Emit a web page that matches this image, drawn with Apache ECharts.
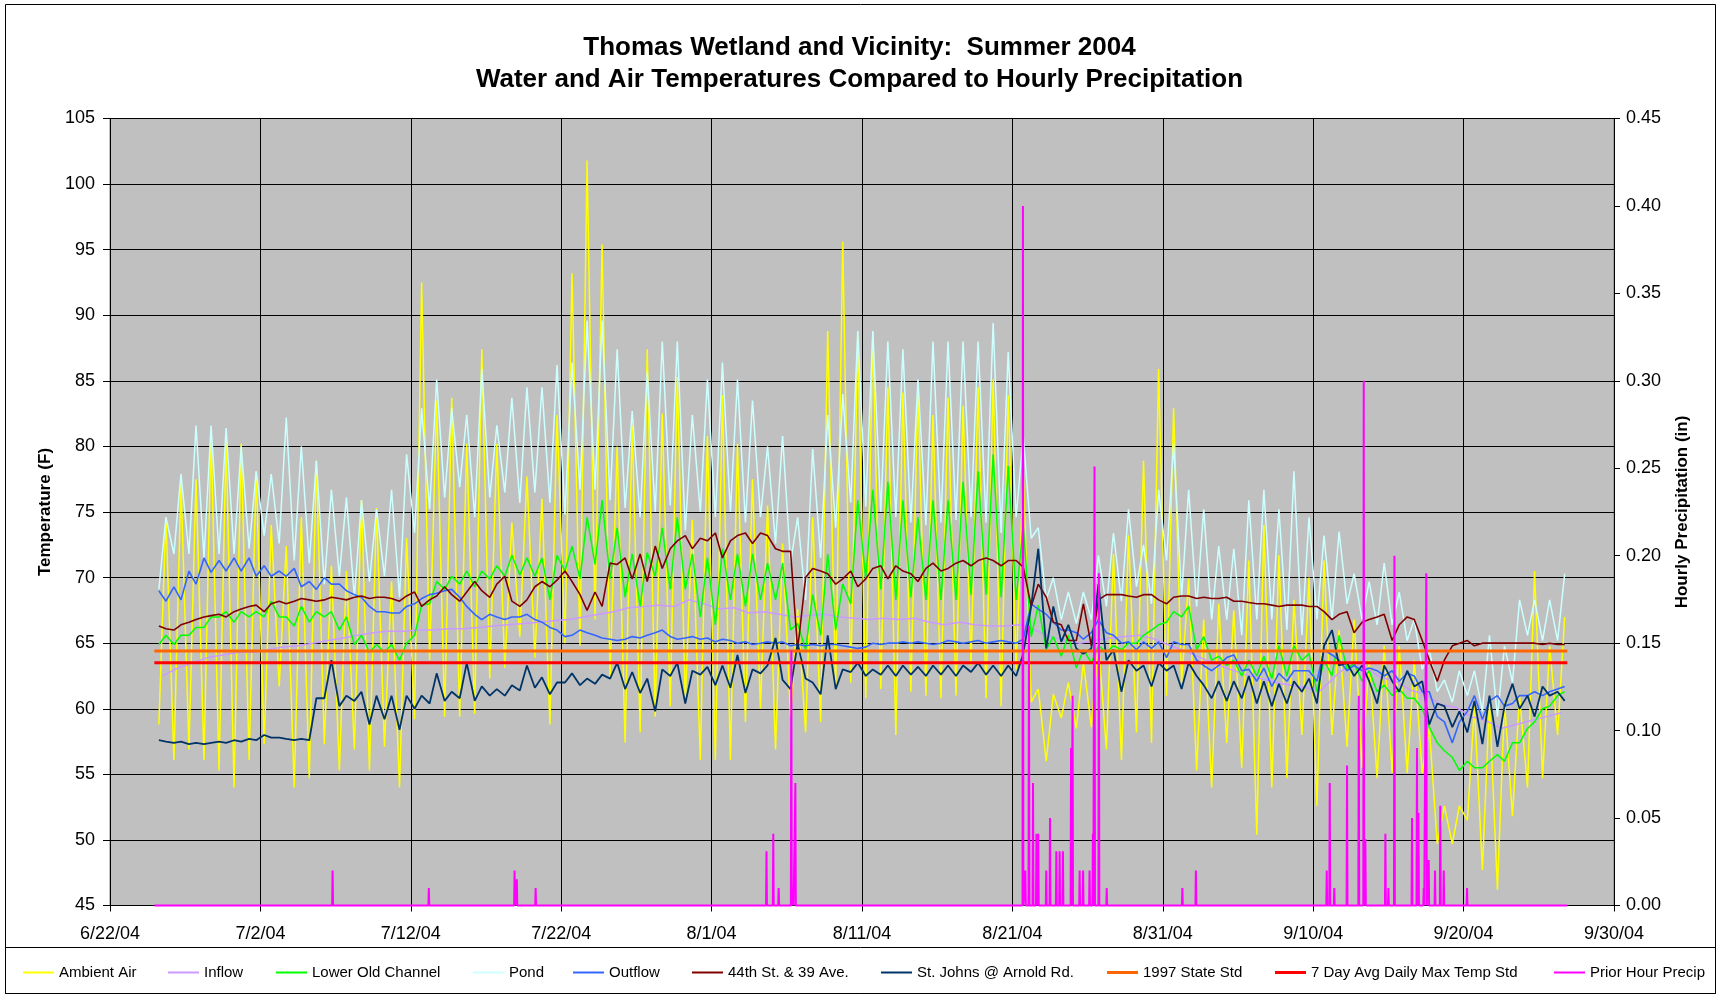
<!DOCTYPE html>
<html>
<head>
<meta charset="utf-8">
<title>Thomas Wetland and Vicinity: Summer 2004</title>
<script src="https://cdn.jsdelivr.net/npm/echarts@6/dist/echarts.min.js"></script>
<style>
    html, body { margin: 0; padding: 0; background: #fff; }
    #chart { width: 1719px; height: 998px; }
</style>
</head>
<body>
<div id="chart"></div>
<script>
// x is counted in days from 6/22/04, first reading day is 6/25/04
var firstDay = 3;
var xLabels = ['6/22/04', '7/2/04', '7/12/04', '7/22/04', '8/1/04', '8/11/04',
    '8/21/04', '8/31/04', '9/10/04', '9/20/04', '9/30/04'];

// two readings per day (early morning / late afternoon), 6/25 .. 9/26
var ambientAM = [
    58.8, 56.1, 56.9, 56.1, 55.3, 54.0, 56.1, 57.3, 61.7, 54.0,
    54.7, 57.3, 55.3, 56.9, 55.3, 57.1, 54.0, 59.2, 63.7, 59.4,
    59.4, 59.6, 62.3, 63.1, 65.5, 63.9, 58.8, 65.0, 64.8, 66.8,
    62.3, 57.4, 58.2, 59.4, 60.2, 60.5, 56.1, 56.1, 56.1, 59.0,
    60.0, 56.9, 59.4, 58.2, 59.0, 61.5, 62.0, 60.8, 61.5, 58.0,
    61.3, 61.0, 60.8, 61.0, 63.3, 60.8, 60.2, 63.0, 60.5, 56.0,
    59.3, 58.5, 58.6, 56.9, 56.1, 58.2, 57.4, 61.0, 62.0, 55.3,
    54.0, 57.4, 55.5, 50.4, 54.0, 54.7, 58.0, 52.6, 58.0, 57.1,
    55.5, 54.7, 55.1, 55.1, 55.1, 49.7, 49.7, 51.5, 47.7, 46.2,
    51.8, 54.0, 54.7, 58.0
];
var ambientPM = [
    74.6, 77.3, 77.5, 81.0, 80.4, 80.2, 78.1, 74.0, 72.4, 74.6,
    78.9, 70.9, 70.5, 75.9, 75.3, 69.7, 73.0, 92.5, 83.5, 83.7,
    80.2, 87.4, 80.2, 74.2, 77.7, 76.0, 82.4, 93.2, 101.8, 95.4,
    80.0, 81.6, 87.4, 82.5, 85.3, 74.4, 80.8, 83.9, 80.2, 77.5,
    75.5, 72.6, 67.6, 74.6, 88.8, 95.6, 88.4, 88.8, 84.5, 84.1,
    84.5, 82.4, 83.7, 83.1, 84.5, 85.1, 83.9, 78.1, 61.5, 61.1,
    62.0, 63.5, 65.0, 71.8, 73.2, 78.9, 85.9, 82.9, 69.9, 66.8,
    68.0, 67.5, 71.3, 74.0, 71.7, 68.3, 70.0, 71.3, 66.0, 66.8,
    63.7, 64.8, 64.8, 63.7, 58.5, 52.6, 52.6, 60.2, 60.5, 60.5,
    61.0, 70.5, 64.8, 67.0
];

// inflow: one reading per day
var inflowDaily = [
    62.5, 63.1, 63.5, 63.9, 64.1, 64.3, 64.3, 64.5, 64.7, 64.8,
    65.0, 65.2, 65.4, 65.6, 65.8, 65.9, 65.9, 66.0, 66.0, 66.1,
    66.1, 66.2, 66.3, 66.4, 66.5, 66.6, 66.7, 66.8, 67.0, 67.2,
    67.4, 67.7, 67.8, 67.9, 67.8, 68.3, 68.0, 67.6, 67.7, 67.3,
    67.4, 67.2, 67.0, 67.1, 67.2, 67.0, 66.9, 66.8, 66.9, 66.8,
    66.9, 66.6, 66.4, 66.6, 66.4, 66.3, 66.3, 66.4, 66.0, 65.5,
    65.2, 65.0, 65.2, 65.4, 65.5, 65.6, 65.3, 64.8, 64.4, 63.9,
    63.4, 63.0, 62.6, 62.3, 62.0, 61.8, 61.6, 61.4, 62.5, 63.5,
    63.1, 62.4, 62.1, 61.4, 61.1, 60.3, 60.1, 59.4, 59.1, 58.5,
    58.8, 59.1, 59.4, 59.7
];

var lowerChannelAM = [
    64.9, 64.9, 65.6, 66.2, 67.0, 66.6, 67.0, 67.0, 67.0, 66.3,
    66.6, 67.0, 66.0, 64.9, 64.3, 64.3, 63.7, 65.6, 68.0, 69.1,
    69.5, 69.3, 69.9, 70.1, 70.2, 70.1, 68.3, 70.5, 69.9, 71.0,
    69.9, 68.5, 67.8, 70.1, 69.1, 69.1, 67.0, 66.4, 68.3, 67.8,
    68.3, 68.3, 66.0, 64.5, 65.6, 66.0, 68.0, 69.9, 69.1, 68.3,
    68.5, 68.3, 68.3, 68.3, 68.7, 68.7, 68.5, 68.3, 65.5, 64.5,
    64.0, 63.1, 63.5, 64.3, 64.5, 65.0, 66.0, 66.6, 67.0, 64.5,
    63.7, 63.3, 62.5, 62.5, 62.3, 62.5, 63.7, 61.3, 62.5, 63.0,
    62.1, 61.3, 61.0, 60.8, 60.0, 57.4, 56.3, 56.0, 55.5, 56.5,
    57.4, 58.5, 60.0, 61.0
];
var lowerChannelPM = [
    65.6, 65.6, 66.2, 67.0, 67.4, 67.4, 67.4, 68.2, 67.0, 67.8,
    67.4, 67.4, 67.0, 65.6, 64.9, 64.9, 65.0, 67.9, 69.7, 70.1,
    70.5, 70.5, 70.9, 71.7, 71.5, 71.5, 71.7, 72.4, 74.6, 75.9,
    73.8, 71.8, 71.9, 73.8, 74.6, 71.8, 71.5, 72.2, 71.8, 71.8,
    71.1, 71.1, 66.5, 68.7, 71.8, 69.5, 75.9, 76.7, 77.3, 75.9,
    74.6, 75.9, 75.9, 77.3, 78.1, 79.4, 78.5, 74.0, 67.9, 65.5,
    65.6, 64.5, 64.8, 64.8, 65.0, 65.6, 66.4, 67.4, 67.8, 65.5,
    64.0, 63.7, 63.7, 64.0, 64.8, 64.8, 64.2, 63.7, 65.6, 63.5,
    62.9, 61.8, 61.5, 60.8, 58.6, 56.8, 55.3, 55.5, 56.0, 56.0,
    57.4, 59.0, 60.2, 61.3
];

var pondAM = [
    69.1, 71.8, 71.8, 71.5, 71.8, 71.8, 72.2, 73.2, 72.6, 71.3,
    71.1, 69.5, 70.1, 68.5, 69.7, 70.1, 68.5, 73.4, 75.2, 76.1,
    76.9, 74.6, 76.1, 76.5, 75.7, 76.5, 75.7, 74.8, 76.7, 76.7,
    75.9, 75.3, 74.6, 75.0, 75.5, 73.6, 75.0, 74.6, 75.0, 74.2,
    74.6, 72.6, 71.1, 68.3, 71.5, 73.8, 75.7, 75.4, 75.0, 74.6,
    74.2, 74.0, 74.2, 74.4, 74.6, 74.2, 73.4, 74.6, 73.0, 68.3,
    66.8, 66.5, 66.8, 67.8, 68.2, 69.3, 68.0, 71.3, 68.5, 67.8,
    66.8, 66.8, 65.6, 66.8, 66.8, 66.0, 65.6, 66.8, 66.8, 68.0,
    66.8, 66.4, 66.4, 65.2, 63.0, 61.3, 60.5, 61.0, 59.8, 59.4,
    62.0, 65.6, 65.2, 65.2
];
var pondPM = [
    74.6, 77.9, 81.6, 81.6, 81.4, 80.0, 78.1, 77.9, 82.2, 80.0,
    78.9, 76.7, 76.1, 75.9, 75.2, 76.7, 79.4, 82.9, 85.1, 82.9,
    82.4, 85.9, 81.6, 83.7, 84.5, 84.5, 86.2, 86.4, 89.6, 89.6,
    87.4, 82.7, 85.7, 88.0, 88.0, 82.4, 85.1, 86.4, 85.1, 83.5,
    80.0, 80.8, 74.6, 79.8, 82.4, 84.0, 88.8, 88.8, 88.0, 87.4,
    85.1, 88.0, 88.0, 88.0, 88.0, 89.4, 87.2, 80.8, 73.8, 70.0,
    68.9, 68.9, 71.7, 73.4, 75.2, 72.5, 76.7, 80.2, 76.7, 75.2,
    72.4, 72.2, 75.9, 76.7, 75.2, 78.1, 74.6, 73.2, 73.5, 70.3,
    69.7, 71.1, 68.9, 66.8, 64.5, 62.2, 62.9, 62.9, 65.6, 64.8,
    68.3, 68.3, 68.3, 70.3
];

var outflowAM = [
    69.0, 69.3, 70.5, 71.5, 71.3, 71.5, 71.5, 70.9, 70.5, 70.7,
    69.7, 70.0, 69.5, 68.7, 67.8, 67.4, 67.3, 68.0, 68.7, 69.0,
    68.5, 67.2, 67.2, 66.8, 67.0, 66.8, 66.2, 65.5, 66.0, 65.6,
    65.3, 65.3, 65.4, 65.8, 65.5, 65.4, 65.3, 65.1, 65.2, 65.1,
    65.0, 65.0, 64.8, 64.8, 64.8, 64.9, 64.7, 64.7, 64.9, 65.0,
    65.0, 65.0, 65.0, 65.1, 65.1, 65.0, 65.2, 65.0, 68.0, 67.2,
    66.0, 65.8, 65.8, 65.8, 65.0, 64.5, 64.6, 63.9, 64.9, 63.7,
    62.9, 63.9, 62.9, 62.1, 61.7, 62.1, 62.9, 62.1, 64.1, 62.9,
    62.9, 62.9, 62.9, 62.7, 61.3, 59.4, 57.4, 59.8, 59.2, 61.0,
    60.4, 61.0, 61.0, 61.5
];
var outflowPM = [
    68.2, 68.3, 69.5, 70.4, 70.5, 70.5, 70.1, 70.1, 70.1, 69.3,
    69.1, 69.5, 69.0, 68.5, 67.4, 67.3, 67.8, 68.4, 68.8, 69.1,
    67.8, 66.8, 67.0, 67.0, 67.2, 66.6, 66.0, 65.6, 65.8, 65.4,
    65.2, 65.5, 65.6, 66.0, 65.3, 65.5, 65.4, 65.3, 65.0, 64.9,
    65.1, 65.1, 64.9, 64.9, 64.9, 64.8, 64.6, 65.0, 65.0, 65.1,
    65.1, 64.9, 65.2, 65.0, 65.2, 65.1, 65.1, 65.3, 67.6, 66.6,
    66.0, 65.3, 66.8, 65.6, 65.1, 65.1, 65.1, 65.1, 64.9, 63.3,
    63.3, 64.1, 63.0, 63.1, 62.7, 62.9, 62.9, 64.5, 63.7, 63.3,
    63.1, 62.5, 62.1, 62.5, 61.3, 59.0, 59.0, 61.0, 60.6, 60.2,
    61.0, 61.3, 61.3, 61.7
];

var street44AM = [
    66.3, 66.0, 66.6, 67.0, 67.2, 67.4, 67.8, 67.4, 68.2, 68.2,
    68.3, 68.3, 68.4, 68.5, 68.4, 68.5, 68.2, 68.9, 68.3, 69.3,
    68.2, 69.7, 68.5, 70.1, 67.8, 69.3, 69.3, 70.5, 68.7, 68.9,
    71.1, 71.5, 71.8, 72.4, 72.2, 73.2, 73.0, 73.4, 72.8, 73.4,
    73.4, 72.2, 72.0, 70.0, 70.5, 69.5, 70.5, 69.9, 70.9, 70.9,
    70.3, 70.7, 70.5, 71.1, 70.9, 71.5, 70.9, 71.3, 67.8, 68.5,
    66.4, 65.2, 64.8, 68.7, 68.7, 68.5, 68.7, 68.0, 68.6, 68.4,
    68.4, 68.5, 68.2, 68.0, 67.9, 67.9, 67.9, 67.8, 66.8, 67.4,
    66.6, 67.0, 65.2, 67.0, 65.2, 62.1, 64.8, 65.2, 65.0, 65.0,
    65.0, 65.0, 64.9, 64.9
];
var street44PM = [
    66.1, 66.4, 66.8, 67.1, 67.0, 67.6, 67.9, 68.0, 68.0, 68.4,
    68.2, 68.5, 68.3, 68.6, 68.5, 68.4, 68.6, 67.8, 68.6, 68.7,
    68.9, 69.0, 69.5, 68.2, 68.3, 69.7, 69.8, 69.7, 67.5, 67.8,
    71.0, 69.9, 69.7, 70.7, 72.8, 72.2, 72.8, 71.5, 73.2, 72.6,
    73.2, 72.0, 64.5, 70.7, 70.3, 69.9, 69.3, 70.7, 69.9, 70.5,
    69.7, 71.1, 70.7, 71.3, 71.3, 71.3, 71.3, 70.8, 69.5, 66.6,
    65.2, 68.0, 68.3, 68.7, 68.6, 68.7, 68.3, 68.5, 68.6, 68.5,
    68.4, 68.2, 68.1, 68.0, 67.8, 67.9, 67.8, 67.4, 67.2, 65.8,
    66.8, 67.2, 66.4, 66.8, 63.7, 63.7, 65.0, 64.8, 65.0, 65.0,
    65.0, 65.0, 65.0, 64.9
];

var stJohnsAM = [
    57.6, 57.4, 57.3, 57.3, 57.5, 57.6, 57.7, 58.0, 57.8, 57.6,
    57.6, 60.8, 60.2, 60.6, 58.8, 59.2, 58.4, 60.0, 60.4, 60.6,
    60.8, 60.6, 61.0, 61.0, 61.4, 61.6, 61.1, 62.0, 61.8, 61.9,
    62.3, 61.5, 61.2, 59.8, 62.5, 60.4, 62.6, 61.8, 61.6, 61.2,
    62.7, 65.4, 61.5, 62.3, 61.1, 61.5, 62.8, 62.5, 62.6, 62.5,
    62.6, 62.5, 62.6, 62.5, 62.8, 62.6, 62.5, 62.5, 67.8, 64.6,
    65.1, 64.6, 64.6, 63.7, 61.3, 62.9, 61.7, 62.9, 61.5, 62.5,
    60.8, 60.6, 60.8, 60.4, 60.2, 60.4, 61.3, 60.4, 66.0, 63.5,
    63.3, 60.4, 62.1, 62.9, 62.1, 60.4, 58.6, 58.2, 57.3, 57.1,
    61.9, 61.0, 61.7, 61.3
];
var stJohnsPM = [
    57.5, 57.5, 57.4, 57.4, 57.4, 57.5, 57.6, 57.8, 57.7, 57.7,
    60.8, 63.7, 61.0, 61.3, 61.0, 61.0, 61.0, 61.0, 62.7, 61.3,
    63.5, 61.7, 61.5, 61.8, 63.3, 62.4, 62.0, 62.7, 62.3, 62.6,
    63.5, 62.8, 62.3, 63.0, 63.5, 62.9, 63.2, 63.3, 64.1, 63.0,
    63.3, 62.2, 65.0, 62.0, 65.6, 63.0, 63.5, 63.0, 63.3, 63.3,
    63.2, 63.3, 63.3, 63.3, 63.5, 63.3, 63.3, 64.2, 72.2, 67.8,
    66.4, 64.2, 69.5, 64.5, 63.7, 63.3, 63.5, 63.3, 63.5, 61.8,
    62.1, 62.1, 62.5, 62.1, 61.9, 62.1, 62.3, 64.8, 63.3, 62.5,
    62.1, 63.3, 61.3, 61.7, 58.8, 60.2, 59.8, 60.6, 61.0, 60.2,
    60.0, 59.4, 61.0, 60.6
];

// temperature standards (F) and the span they are drawn over
var stateStd = 64.4;
var sevenDayStd = 63.5;
var stdSpan = [2.95, 96.9];

// hourly precipitation: hours with rain (day) and amount (in)
var rainDay = [14.8, 21.2, 26.9, 27.05, 28.3, 43.65, 44.1, 44.46, 45.3, 45.42, 45.57,
    60.7, 60.86, 61.1, 61.37, 61.6, 61.72, 62.25, 62.5, 62.92, 63.14, 63.36, 63.9, 64.0,
    64.47, 64.7, 65.13, 65.35, 65.46, 65.75, 66.27, 71.3, 72.2, 80.9, 81.1, 81.4, 82.25,
    83.03, 83.36, 83.47, 84.8, 85.0, 85.4, 86.57, 86.9, 87.0, 87.35, 87.52, 87.68, 88.1,
    88.45, 88.68, 90.23];
var rainIn = [0.02, 0.01, 0.02, 0.015, 0.01, 0.031, 0.041, 0.01, 0.146, 0.01, 0.07,
    0.40, 0.02, 0.16, 0.07, 0.041, 0.041, 0.02, 0.05, 0.031, 0.031, 0.031, 0.09, 0.12,
    0.02, 0.02, 0.02, 0.041, 0.251, 0.19, 0.01, 0.01, 0.02, 0.02, 0.07, 0.01, 0.08,
    0.12, 0.30, 0.038, 0.041, 0.01, 0.20, 0.05, 0.09, 0.053, 0.01, 0.19, 0.026, 0.02,
    0.057, 0.02, 0.01];

var FONT = "'Liberation Sans', Arial, sans-serif";

function twiceDaily(am, pm) {
    var out = [];
    for (var i = 0; i < am.length; i++) {
        out.push([firstDay + i + 0.25, am[i]]);
        out.push([firstDay + i + 0.72, pm[i]]);
    }
    return out;
}

function daily(vals) {
    var out = [];
    for (var i = 0; i < vals.length; i++) {
        out.push([firstDay + i + 0.5, vals[i]]);
    }
    return out;
}

function precipLine() {
    var out = [[stdSpan[0], 0]];
    for (var i = 0; i < rainDay.length; i++) {
        out.push([rainDay[i] - 0.03, 0]);
        out.push([rainDay[i], rainIn[i]]);
        out.push([rainDay[i] + 0.03, 0]);
    }
    out.push([stdSpan[1], 0]);
    return out;
}

function lineSeries(name, color, data, width, yIndex) {
    return {
        name: name,
        type: 'line',
        yAxisIndex: yIndex || 0,
        data: data,
        symbol: 'none',
        silent: true,
        clip: yIndex ? false : true,
        lineStyle: { color: color, width: width },
        itemStyle: { color: color },
        emphasis: { disabled: true }
    };
}

var names = ['Ambient Air', 'Inflow', 'Lower Old Channel', 'Pond', 'Outflow',
    '44th St. & 39 Ave.', 'St. Johns @ Arnold Rd.', '1997 State Std',
    '7 Day Avg Daily Max Temp Std', 'Prior Hour Precip'];
var legendLeft = [23, 168, 276, 473, 573, 692, 881, 1107, 1275, 1554];
var legendThick = [2, 2, 2, 2, 2, 2, 2, 3, 3, 2];

var legends = [];
for (var i = 0; i < names.length; i++) {
    legends.push({
        data: [names[i]],
        left: legendLeft[i],
        top: 965,
        padding: 0,
        icon: 'rect',
        itemWidth: 31,
        itemHeight: legendThick[i],
        selectedMode: false,
        textStyle: { fontSize: 15, color: '#000', fontFamily: FONT }
    });
}

var chart = echarts.init(document.getElementById('chart'));

var option = {
    animation: false,
    backgroundColor: '#fff',
    textStyle: { fontFamily: FONT },
    title: {
        text: 'Thomas Wetland and Vicinity:  Summer 2004\nWater and Air Temperatures Compared to Hourly Precipitation',
        left: 'center',
        top: 27,
        textStyle: { fontSize: 26, fontWeight: 'bold', color: '#000', lineHeight: 32, fontFamily: FONT }
    },
    legend: legends,
    grid: {
        left: 110, right: 105, top: 118.5, bottom: 92.5,
        show: true, backgroundColor: '#C0C0C0', borderColor: '#808080', borderWidth: 1
    },
    xAxis: {
        type: 'value', min: 0, max: 100, interval: 10,
        axisLine: { onZero: false, lineStyle: { color: '#000', width: 1 } },
        axisTick: { length: 6, lineStyle: { color: '#000' } },
        axisLabel: {
            fontSize: 18, color: '#000', margin: 20,
            formatter: function (v) { return xLabels[Math.round(v / 10)]; }
        },
        splitLine: { show: true, lineStyle: { color: '#000', width: 1 } }
    },
    yAxis: [
        {
            type: 'value', min: 45, max: 105, interval: 5, position: 'left',
            name: 'Temperature (F)', nameLocation: 'middle', nameGap: 55,
            nameTextStyle: { fontSize: 17, fontWeight: 'bold', color: '#000', fontFamily: FONT },
            axisLine: { show: true, onZero: false, lineStyle: { color: '#000' } },
            axisTick: { show: true, length: 7, lineStyle: { color: '#000' } },
            axisLabel: { fontSize: 18, color: '#000', margin: 15 },
            splitLine: { show: true, lineStyle: { color: '#000', width: 1 } }
        },
        {
            type: 'value', min: 0, max: 0.45, interval: 0.05, position: 'right',
            name: 'Hourly Precipitation (in)', nameLocation: 'middle', nameGap: 60,
            nameTextStyle: { fontSize: 17, fontWeight: 'bold', color: '#000', fontFamily: FONT },
            axisLine: { show: true, onZero: false, lineStyle: { color: '#000' } },
            axisTick: { show: true, length: 6, lineStyle: { color: '#000' } },
            axisLabel: {
                fontSize: 18, color: '#000', margin: 12,
                formatter: function (v) { return v.toFixed(2); }
            },
            splitLine: { show: false }
        }
    ],
    graphic: [
        {
            type: 'rect', silent: true, z: -10,
            shape: { x: 5.5, y: 4.5, width: 1710, height: 989 },
            style: { fill: 'none', stroke: '#000', lineWidth: 1 }
        },
        {
            type: 'rect', silent: true, z: -10,
            shape: { x: 5.5, y: 947.5, width: 1710, height: 46 },
            style: { fill: 'none', stroke: '#000', lineWidth: 1 }
        }
    ],
    series: [
        lineSeries(names[0], '#FFFF00', twiceDaily(ambientAM, ambientPM), 1.5),
        lineSeries(names[1], '#CC99FF', daily(inflowDaily), 1.5),
        lineSeries(names[2], '#00FF00', twiceDaily(lowerChannelAM, lowerChannelPM), 1.5),
        lineSeries(names[3], '#CCFFFF', twiceDaily(pondAM, pondPM), 1.5),
        lineSeries(names[4], '#3366FF', twiceDaily(outflowAM, outflowPM), 1.6),
        lineSeries(names[5], '#800000', twiceDaily(street44AM, street44PM), 1.6),
        lineSeries(names[6], '#003366', twiceDaily(stJohnsAM, stJohnsPM), 1.8),
        lineSeries(names[7], '#FF6600', [[stdSpan[0], stateStd], [stdSpan[1], stateStd]], 3),
        lineSeries(names[8], '#FF0000', [[stdSpan[0], sevenDayStd], [stdSpan[1], sevenDayStd]], 3),
        lineSeries(names[9], '#FF00FF', precipLine(), 2, 1)
    ]
};

chart.setOption(option);
</script>
</body>
</html>
